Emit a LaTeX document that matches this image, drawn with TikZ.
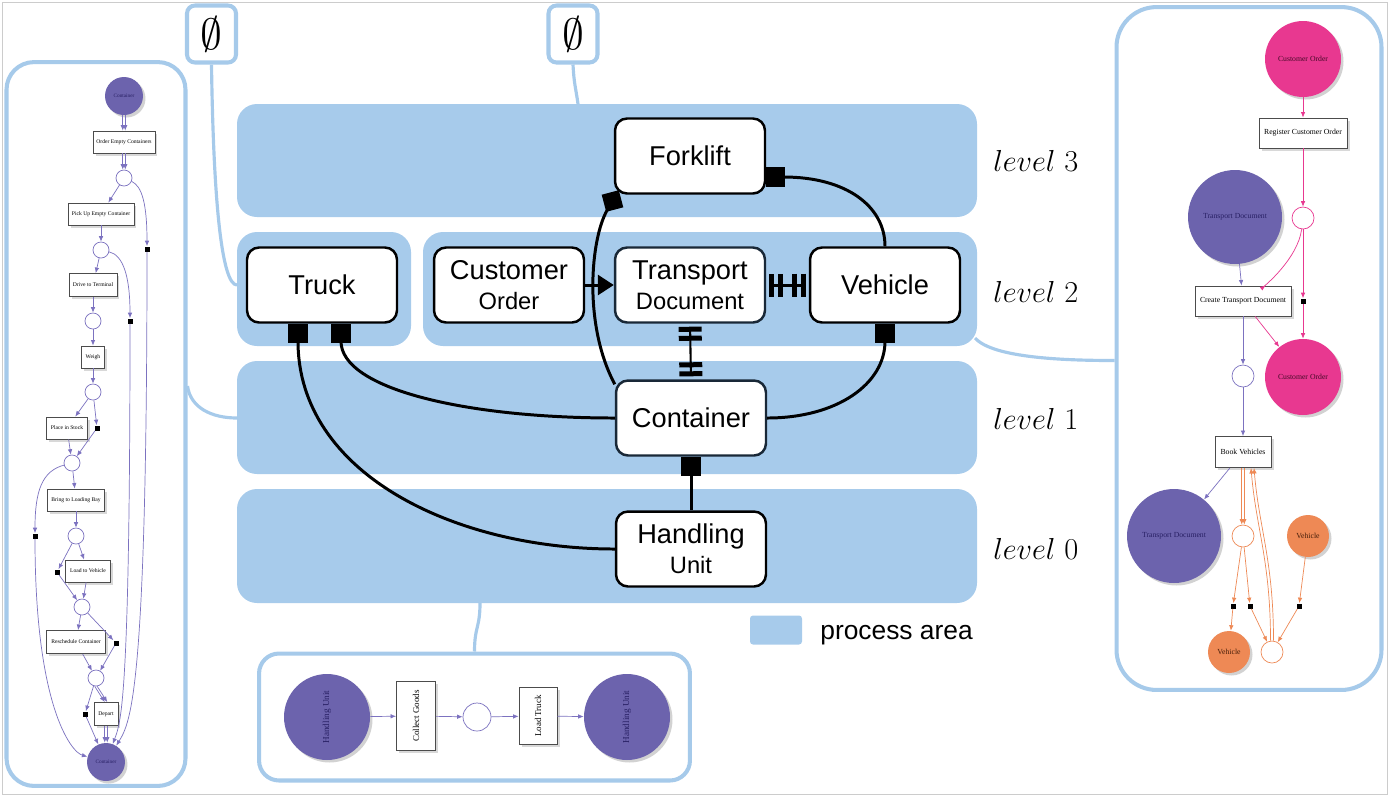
\documentclass[tikz,border=0pt]{standalone}
\usepackage{amsmath}
\usepackage{amssymb}
\usepackage{fontspec}
\setsansfont{Liberation Sans}
\newfontfamily\petrifont{Liberation Serif}
\usepackage{tikz}
\usepackage{tkz-euclide}
\usepackage{xcolor}
\usetikzlibrary{arrows.meta,shadows}
\definecolor{areablue}{RGB}{167,203,235}
\definecolor{panelblue}{RGB}{166,202,234}
\definecolor{navyline}{RGB}{25,40,55}
\definecolor{petripurple}{RGB}{108,99,173}
\definecolor{petrinavy}{RGB}{40,32,100}
\definecolor{arcpurple}{RGB}{124,114,192}
\definecolor{petripink}{RGB}{232,56,144}
\definecolor{pinkdark}{RGB}{70,10,40}
\definecolor{petriorange}{RGB}{238,137,85}
\definecolor{orangedark}{RGB}{70,30,10}
\tikzset{
  sq/.tip={Square[length=.38cm,width=.4cm]},
  tri/.tip={Triangle[length=.32cm,width=.4cm]},
  dia/.tip={Diamond[length=.5cm,width=.5cm]},
  dbar/.tip={Bar[width=.46cm,line width=.1cm,sep=.08cm]Bar[width=.46cm,line width=.1cm,sep=.06cm]},
  area/.style={fill=areablue,rounded corners=.4cm},
  panel/.style={draw=panelblue,line width=2.3pt,fill=white,rounded corners=#1},
  link/.style={draw=panelblue,line width=1.8pt},
  entity/.style={draw=black,fill=white,line width=1.4pt,rounded corners=.24cm,minimum width=3cm,
    minimum height=1.5cm,align=center,inner sep=0pt,font=\sffamily\fontsize{15.5}{17}\selectfont},
  conn/.style={line width=1.7pt},
  lvl/.style={anchor=base west,inner sep=0pt,font=\fontsize{17}{20}\selectfont},
  ptxt/.style={font=\petrifont\fontsize{#1}{#1}\selectfont},
  place/.style={circle,fill=#1,inner sep=0pt,drop shadow={opacity=.35,shadow xshift=.05cm,shadow yshift=-.05cm}},
  hole/.style={circle,draw=#1,fill=white,line width=.4pt,inner sep=0pt,minimum size=.32cm},
  trans/.style={draw=black!70,fill=white,line width=.5pt,inner sep=0pt,
    drop shadow={opacity=.3,shadow xshift=.05cm,shadow yshift=-.05cm}},
  blk/.style={fill=black,inner sep=0pt,minimum size=.1cm},
  parc/.style={draw=#1,line width=.4pt,-{Latex[length=.11cm,width=.09cm]}},
}
\newcommand{\sndline}[1]{{\fontsize{13.5}{16}\selectfont #1}}
\begin{document}
\begin{tikzpicture}[x=0.02cm,y=-0.02cm]
\useasboundingbox (0,0) rectangle (1389,796);
\draw[black!20] (2,2) rectangle (1387,794);
\foreach \ya/\yb in {104/217,361/474,489/603} \fill[area] (237,\ya) rectangle (977,\yb);
\fill[area] (237,232) rectangle (411,346);
\fill[area] (423,232) rectangle (977,346);
\tkzDefPoints{237/285/a2l,578/104/a3t,237/418/a1l,975/338/a2r,480/603/a0b}

\node[panel=.55cm,minimum width=3.58cm,minimum height=14.48cm] (lp) at (96,424) {};
\node[panel=.8cm,minimum width=5.3cm,minimum height=13.66cm] (rp) at (1249,348.5) {};
\node[panel=.4cm,minimum width=8.62cm,minimum height=2.54cm] (bp) at (474.5,717) {};
\node[panel=.16cm,minimum width=.98cm,minimum height=1.14cm,inner sep=0pt,font=\fontsize{26}{28}\selectfont] (e1) at (211.5,34) {$\emptyset$};
\node[panel=.16cm,minimum width=.98cm,minimum height=1.14cm,inner sep=0pt,font=\fontsize{26}{28}\selectfont] (e2) at (573,34) {$\emptyset$};
\draw[link] (e1.south) .. controls +(2,140) and +(-15,0) .. (a2l);
\draw[link] (e2.south) .. controls +(1,20) and +(-2,-15) .. (a3t);
\draw[link] ([yshift=.76cm]lp.east) .. controls +(3,22) and +(-25,0) .. (a1l);
\draw[link] (a2r) .. controls +(18,20) and +(-50,0) .. ([yshift=-.24cm]rp.west);
\draw[link] (a0b) .. controls +(0,25) and +(0,-25) .. (bp.north);

\node[entity] (forklift) at (690,156) {Forklift};
\node[entity] (truck) at (322,285) {Truck};
\node[entity] (custorder) at (509,285) {Customer\\\sndline{Order}};
\node[entity,draw=navyline] (transdoc) at (690,285) {Transport\\\sndline{Document}};
\node[entity] (vehicle) at (885,285) {Vehicle};
\node[entity,draw=navyline] (container) at (691,418) {Container};
\node[entity] (handling) at (691,549) {Handling\\\sndline{Unit}};
\draw[conn,sq-] ([xshift=-.48cm]truck.south) .. controls +(0,150) and +(-160,0) .. (handling.west);
\draw[conn,sq-] ([xshift=.38cm]truck.south) .. controls +(0,65) and +(-150,0) .. (container.west);
\draw[conn,-tri] (custorder) -- (transdoc);
\draw[conn,-dia] ([yshift=-.1cm]container.north west) .. controls +(-32,-60) and +(-28,48) .. ([xshift=.1cm,yshift=.09cm]forklift.south west);
\draw[conn,sq-] ([yshift=-.42cm]forklift.east) .. controls +(80,0) and +(0,-40) .. (vehicle.north);
\draw[conn,sq-] (vehicle.south) .. controls +(0,60) and +(70,0) .. (container.east);
\draw[conn,sq-] (container.south) -- (handling.north);
\draw[conn,dbar-dbar] (transdoc.east) -- (vehicle.west);
\draw[conn,dbar-dbar,line width=1.2pt] (transdoc.south) -- (container.north);
\foreach \y/\l in {171/3,302/2,429/1,559/0} \node[lvl] (lvl\l) at (993,\y) {$level\ \l$};
\node[fill=areablue,rounded corners=.06cm,minimum width=1.04cm,minimum height=.58cm] (key) at (776,630) {};
\node[anchor=base west,inner sep=0pt,font=\sffamily\fontsize{15}{17}\selectfont] (keytext) at (820,639) {process area};

\node[place=petripurple,minimum size=.76cm,ptxt=3,text=petrinavy] (lc1) at (124,96) {Container};
\node[trans,minimum width=1.24cm,minimum height=.44cm,ptxt=3.2] (lt1) at (124,142) {Order Empty Containers};
\node[hole=arcpurple] (lp1) at (124,178) {};
\node[trans,minimum width=1.32cm,minimum height=.44cm,ptxt=3.2] (lt2) at (101,214) {Pick Up Empty Container};
\node[blk] (lm1) at (147,249) {};
\node[hole=arcpurple] (lp2) at (101,250) {};
\node[trans,minimum width=.96cm,minimum height=.46cm,ptxt=3.2] (lt3) at (93,285) {Drive to Terminal};
\node[blk] (lm2) at (130,321) {};
\node[hole=arcpurple] (lp3) at (93,321) {};
\node[trans,minimum width=.46cm,minimum height=.44cm,ptxt=3.2] (lt4) at (93,357) {Weigh};
\node[hole=arcpurple] (lp4) at (93,392) {};
\node[trans,minimum width=.82cm,minimum height=.44cm,ptxt=3.2] (lt5) at (67,428) {Place in Stock};
\node[blk] (lm3) at (97,428) {};
\node[hole=arcpurple] (lp5) at (72,463) {};
\node[trans,minimum width=1.14cm,minimum height=.44cm,ptxt=3.2] (lt6) at (76,500) {Bring to Loading Bay};
\node[blk] (lm4) at (35,536) {};
\node[hole=arcpurple] (lp6) at (76,536) {};
\node[blk] (lm5) at (57,572) {};
\node[trans,minimum width=.9cm,minimum height=.44cm,ptxt=3.2] (lt7) at (88,571) {Load to Vehicle};
\node[hole=arcpurple] (lp7) at (82,607) {};
\node[trans,minimum width=1.18cm,minimum height=.46cm,ptxt=3.2] (lt8) at (76,642) {Reschedule Container};
\node[blk] (lm6) at (116,643) {};
\node[hole=arcpurple] (lp8) at (96,678) {};
\node[blk] (lm7) at (85,714) {};
\node[trans,minimum width=.48cm,minimum height=.46cm,ptxt=3.2] (lt9) at (106,714) {Depart};
\node[place=petripurple,minimum size=.76cm,ptxt=3,text=petrinavy] (lc2) at (106,762) {Container};
\foreach \a/\b in {lp1/lt2,lt2/lp2,lp2/lt3,lt3/lp3,lp3/lt4,lt4/lp4,lp4/lt5,lp4/lm3,lm3/lp5,lt5/lp5,lp5/lt6,lt6/lp6,
  lp6/lm5,lm5/lp7,lp6/lt7,lt7/lp7,lp7/lt8,lp7/lm6,lm6/lp8,lt8/lp8,lp8/lm7,lm7/lc2}
  \draw[parc=arcpurple] (\a) -- (\b);
\foreach \a/\b in {lc1/lt1,lt1/lp1,lp8/lt9,lt9/lc2}
  \foreach \s in {-.025,.025}
    \draw[parc=arcpurple] ([xshift=\s cm]\a.south) -- ([xshift=\s cm]\b.north);
\draw[parc=arcpurple] (lp1) .. controls +(18,8) and +(0,-45) .. (lm1);
\draw[parc=arcpurple] (lm1) .. controls +(0,440) and +(25,-40) .. (lc2);
\draw[parc=arcpurple] (lp2) .. controls +(22,5) and +(0,-45) .. (lm2);
\draw[parc=arcpurple] (lm2) .. controls +(0,380) and +(15,-40) .. (lc2);
\draw[parc=arcpurple] (lp5) .. controls +(-30,8) and +(0,-45) .. (lm4);
\draw[parc=arcpurple] (lm4) .. controls +(0,170) and +(-35,-10) .. (lc2);

\node[place=petripink,minimum size=1.52cm,ptxt=4.4,text=pinkdark] (rco1) at (1303,59) {Customer Order};
\node[trans,minimum width=1.76cm,minimum height=.6cm,ptxt=4.4] (rt1) at (1303,133) {Register Customer Order};
\node[hole=petripink,minimum size=.44cm] (rp1) at (1303,218) {};
\node[place=petripurple,minimum size=1.88cm,ptxt=4.4,text=petrinavy] (rtd1) at (1235,217) {Transport Document};
\node[trans,minimum width=1.92cm,minimum height=.6cm,ptxt=4.4] (rt2) at (1243,301) {Create Transport Document};
\node[blk] (rm1) at (1303,301) {};
\node[place=petripink,minimum size=1.52cm,ptxt=4.4,text=pinkdark] (rco2) at (1303,377) {Customer Order};
\node[hole=arcpurple,minimum size=.44cm] (rp2) at (1243,376) {};
\node[trans,minimum width=1.12cm,minimum height=.62cm,ptxt=4.4] (rt3) at (1243,452) {Book Vehicles};
\node[place=petripurple,minimum size=1.88cm,ptxt=4.4,text=petrinavy] (rtd2) at (1174,536) {Transport Document};
\node[hole=petriorange,minimum size=.44cm] (rp3) at (1243,536) {};
\node[place=petriorange,minimum size=.84cm,ptxt=4.4,text=orangedark] (rv1) at (1308,536) {Vehicle};
\node[blk] (rm2) at (1233,606) {};
\node[blk] (rm3) at (1250,606) {};
\node[blk] (rm4) at (1299,606) {};
\node[place=petriorange,minimum size=.84cm,ptxt=4.4,text=orangedark] (rv2) at (1229,652) {Vehicle};
\node[hole=petriorange,minimum size=.44cm] (rp4) at (1272,652) {};
\draw[parc=petripink] (rco1) -- (rt1);
\draw[parc=petripink] (rt1) -- (rp1);
\draw[parc=petripink] (rp1) .. controls +(-5,40) and +(22,-15) .. (rt2);
\draw[parc=petripink] (rp1) -- (rm1);
\draw[parc=petripink] (rm1) -- (rco2);
\draw[parc=arcpurple] (rtd1) -- (rt2);
\draw[parc=petripink] (rt2) -- (rco2);
\draw[parc=arcpurple] (rt2) -- (rp2);
\draw[parc=arcpurple] (rp2) -- (rt3);
\draw[parc=arcpurple] (rt3) -- (rtd2);
\foreach \s in {-.025,.025}
  \draw[parc=petriorange] ([xshift=\s cm]rt3.south) -- ([xshift=\s cm]rp3.north);
\foreach \a/\b in {rp3/rm2,rm2/rv2,rp3/rm3,rm3/rp4,rv1/rm4,rm4/rp4}
  \draw[parc=petriorange] (\a) -- (\b);
\draw[parc=petriorange] ([xshift=-.03cm]rp4.north) .. controls +(0,-80) and +(5,60) .. ([xshift=.16cm]rt3.south);
\draw[parc=petriorange] ([xshift=.03cm]rp4.north) .. controls +(0,-80) and +(5,60) .. ([xshift=.22cm]rt3.south);

\node[place=petripurple,minimum size=1.72cm,ptxt=5.2,text=petrinavy,rotate=90] (bh1) at (327,717) {Handling Unit};
\node[trans,minimum width=1.38cm,minimum height=.78cm,ptxt=5.1,rotate=90] (bt1) at (416,716) {Collect Goods};
\node[hole=arcpurple,minimum size=.56cm] (bp1) at (477,717) {};
\node[trans,minimum width=1.14cm,minimum height=.76cm,ptxt=5.1,rotate=90] (bt2) at (538,716) {Load Truck};
\node[place=petripurple,minimum size=1.72cm,ptxt=5.2,text=petrinavy,rotate=90] (bh2) at (627,717) {Handling Unit};
\foreach \a/\b in {bh1/bt1,bt1/bp1,bp1/bt2,bt2/bh2}
  \draw[parc=arcpurple] (\a) -- (\b);
\end{tikzpicture}
\end{document}
